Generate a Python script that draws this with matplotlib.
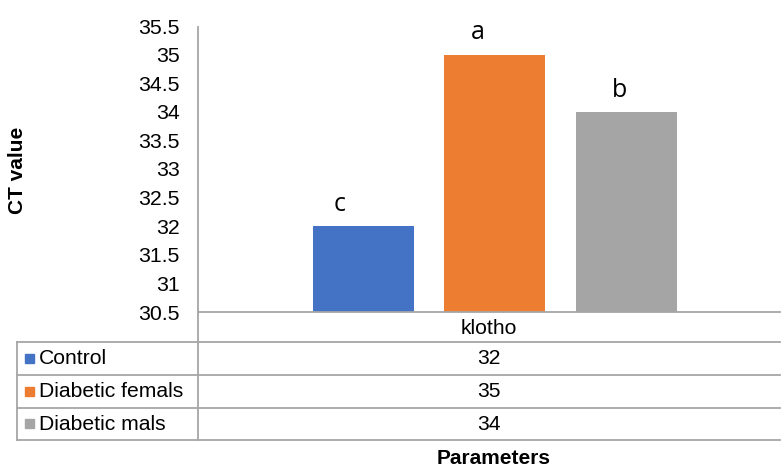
import matplotlib
matplotlib.use("Agg")
import matplotlib.pyplot as plt
from matplotlib.lines import Line2D
from matplotlib.patches import Rectangle

plt.rcParams['font.family'] = ['Liberation Sans', 'DejaVu Sans']

categories = ["klotho"]
series_names = ["Control", "Diabetic femals", "Diabetic mals"]
values = [32, 35, 34]
letters = ["c", "a", "b"]
colors = ["#4472C4", "#ED7D31", "#A5A5A5"]
yticks = [30.5, 31, 31.5, 32, 32.5, 33, 33.5, 34, 34.5, 35, 35.5]

W, H = 781, 466
fig = plt.figure(figsize=(W / 100, H / 100), dpi=100)

def fx(x):
    return x / W

def fy(y):
    return 1 - y / H

ax_l, ax_r, ax_t, ax_b = 198, 780, 26, 312
ax = fig.add_axes([fx(ax_l), fy(ax_b), fx(ax_r - ax_l), (ax_b - ax_t) / H])
ax.set_xlim(-0.5, 0.5)
ax.set_ylim(30.5, 35.5)
ax.set_yticks(yticks)
ax.set_yticklabels([f"{t:g}" for t in yticks], fontsize=15.3)
ax.tick_params(axis='y', length=0, pad=13)
ax.set_xticks([])
for s in ['top', 'right', 'left', 'bottom']:
    ax.spines[s].set_visible(False)

bw = 0.174
gap = 0.226
label_dx = [-17, -12, -5]  # points
for i, (v, c, lt) in enumerate(zip(values, colors, letters)):
    xc = (i - 1) * gap + 0.01
    ax.bar(xc, v - 30.5, bottom=30.5, width=bw, color=c)
    ax.annotate(lt, (xc, v), xytext=(label_dx[i], 11), textcoords='offset points',
                ha='center', va='baseline', fontsize=18, family=['Open Sans', 'DejaVu Sans'])

line_color = "#A6A6A6"
lw = 1.3

def hline(x0, x1, y):
    fig.add_artist(Line2D([fx(x0), fx(x1)], [fy(y), fy(y)], color=line_color, lw=lw))

def vline(x, y0, y1):
    fig.add_artist(Line2D([fx(x), fx(x)], [fy(y0), fy(y1)], color=line_color, lw=lw))

hline(198, 780, 312)
for y in [342, 375, 408, 440]:
    hline(17, 780, y)
vline(17, 342, 440)
vline(198, 27, 440)

cx = 489
fs = 15.2
fig.text(fx(cx), fy(328), categories[0], ha='center', va='center', fontsize=fs)
row_c = [358.5, 391.5, 424]
for name, v, c, yc in zip(series_names, values, colors, row_c):
    fig.text(fx(cx), fy(yc), f"{v}", ha='center', va='center', fontsize=fs)
    fig.add_artist(Rectangle((fx(25), fy(yc + 4)), 9 / W, 9 / H, color=c, transform=fig.transFigure))
    fig.text(fx(39), fy(yc), name, ha='left', va='center', fontsize=fs)

fig.text(fx(cx + 5), fy(458), "Parameters", ha='center', va='center', fontsize=15, fontweight='bold')
fig.text(fx(18), fy(170), "CT value", ha='center', va='center', fontsize=15, fontweight='bold', rotation=90)

fig.savefig("out.png", dpi=100)
